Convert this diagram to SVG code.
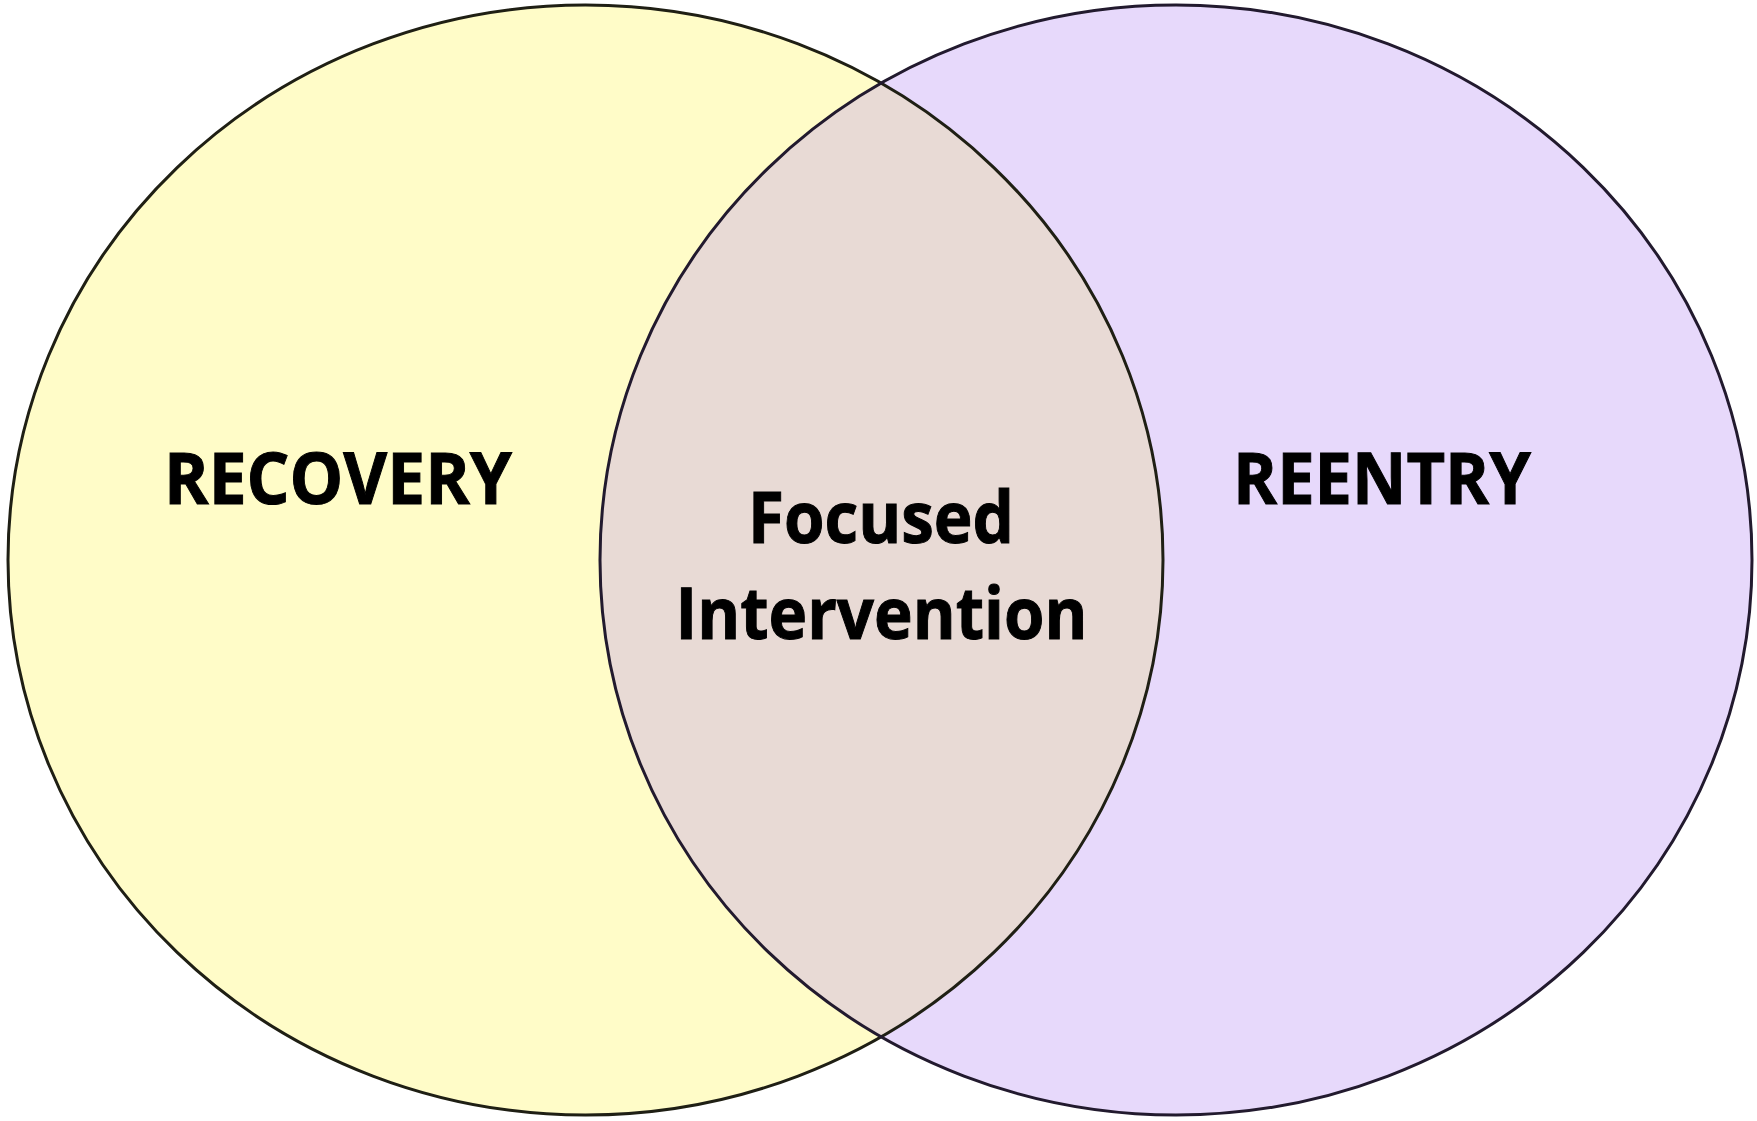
<svg xmlns="http://www.w3.org/2000/svg" width="1757" height="1121" viewBox="0 0 1757 1121">
<style>
.lbl{font-family:"Open Sans","Liberation Sans",sans-serif;font-weight:bold;font-size:71px;fill:#000;stroke:#000;stroke-width:1;text-anchor:middle}
.edge{fill:none;stroke-width:3}
</style>
<defs>
<clipPath id="clipL"><ellipse cx="585.5" cy="560" rx="577.5" ry="555"/></clipPath>
</defs>
<rect width="1757" height="1121" fill="#ffffff"/>
<g id="recovery">
<ellipse cx="585.5" cy="560" rx="577.5" ry="555" fill="#FFFCC8"/>
</g>
<g id="reentry">
<ellipse cx="1176" cy="560" rx="576" ry="555" fill="#E7D9FB"/>
</g>
<g id="overlap">
<ellipse cx="1176" cy="560" rx="576" ry="555" fill="#E8DAD5" clip-path="url(#clipL)"/>
</g>
<g id="outlines">
<ellipse class="edge" cx="585.5" cy="560" rx="577.5" ry="555" stroke="#1f1f14"/>
<ellipse class="edge" cx="1176" cy="560" rx="576" ry="555" stroke="#221a2e"/>
</g>
<g id="labels">
<text class="lbl" x="338" y="504" textLength="348" lengthAdjust="spacingAndGlyphs">RECOVERY</text>
<text class="lbl" x="1382" y="504" textLength="298" lengthAdjust="spacingAndGlyphs">REENTRY</text>
<text class="lbl" x="881" y="543" textLength="266" lengthAdjust="spacingAndGlyphs">Focused</text>
<text class="lbl" x="881.5" y="639" textLength="412" lengthAdjust="spacingAndGlyphs">Intervention</text>
</g>
</svg>
